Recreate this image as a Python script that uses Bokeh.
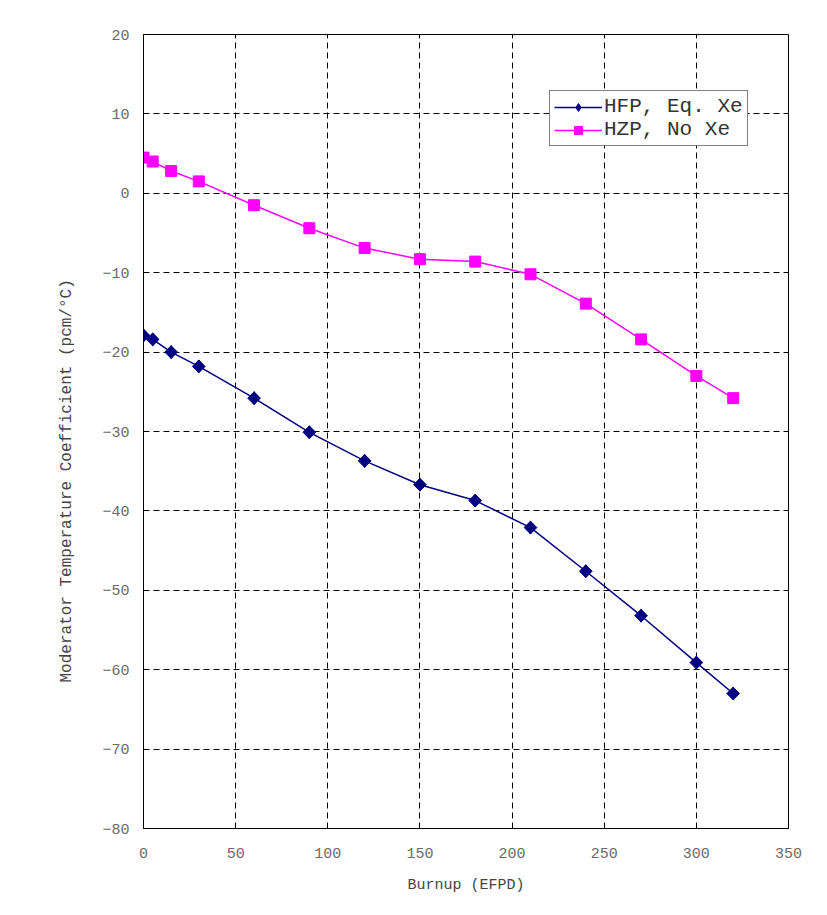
import math
from bokeh.plotting import figure
from bokeh.models import Legend, LegendItem, Range1d, FixedTicker, Title
from bokeh.embed import file_html
from bokeh.resources import INLINE

burnup = [0, 5, 15, 30, 60, 90, 120, 150, 180, 210, 240, 270, 300, 320]
hfp_eq_xe = [-17.9, -18.4, -20.0, -21.8, -25.8, -30.1, -33.7, -36.7, -38.7, -42.1, -47.6, -53.2, -59.1, -63.0]
hzp_no_xe = [4.5, 4.0, 2.8, 1.5, -1.5, -4.4, -6.9, -8.3, -8.6, -10.2, -13.9, -18.4, -23.0, -25.8]
x_ticks = [0, 50, 100, 150, 200, 250, 300, 350]
y_ticks = [20, 10, 0, -10, -20, -30, -40, -50, -60, -70, -80]

FONT = "Liberation Mono"

p = figure(width=827, height=915, output_backend="svg", toolbar_location=None,
           x_range=Range1d(0, 350), y_range=Range1d(-80, 20),
           min_border_left=143, min_border_right=39, min_border_top=34, min_border_bottom=87)

p.outline_line_color = "black"
p.outline_line_width = 1

for ax in (p.xaxis[0], p.yaxis[0]):
    ax.axis_line_color = "black"
    ax.major_tick_in = 5
    ax.major_tick_out = 0
    ax.minor_tick_line_color = None
    ax.major_label_text_font = FONT
    ax.major_label_text_font_size = "15px"
    ax.major_label_text_color = "#6a6a6a"
    ax.axis_label_text_font = FONT
    ax.axis_label_text_font_size = "15px"
    ax.axis_label_text_font_style = "normal"
    ax.axis_label_text_color = "#444444"

p.xaxis.ticker = FixedTicker(ticks=x_ticks)
p.yaxis.ticker = FixedTicker(ticks=y_ticks)
p.xaxis.major_label_standoff = 19
p.yaxis.major_label_standoff = 14
p.xaxis.axis_label = "Burnup (EFPD)"
p.xaxis.axis_label_standoff = 16

# y-axis title, placed as in the reference (slightly below the frame centre)
ytitle = Title(text="Moderator Temperature Coefficient (pcm/°C)", align="left",
               offset=146, standoff=48, text_font=FONT, text_font_size="16px",
               text_font_style="normal", text_color="#444444")
p.add_layout(ytitle, "left")

for g in (p.xgrid[0], p.ygrid[0]):
    g.grid_line_color = "black"
    g.grid_line_dash = "6 4"
    g.grid_line_width = 1

l1 = p.line(burnup, hfp_eq_xe, line_color="#000080", line_width=1.5)
d1 = p.scatter(burnup, hfp_eq_xe, marker="diamond", size=13,
               fill_color="#000080", line_color="#000080")
s1 = p.scatter(burnup, hfp_eq_xe, marker="square", angle=math.pi / 4, size=9,
               fill_color="#000080", line_color="#000080")
l2 = p.line(burnup, hzp_no_xe, line_color="#FF00FF", line_width=1.5)
s2 = p.scatter(burnup, hzp_no_xe, marker="square", size=11, fill_color="#FF00FF", line_color="#FF00FF")

legend = Legend(items=[LegendItem(label="HFP, Eq. Xe", renderers=[l1, d1]),
                       LegendItem(label="HZP, No Xe", renderers=[l2, s2])],
                location=(406, 682))
legend.label_text_font = FONT
legend.label_text_font_size = "21px"
legend.label_text_color = "#333333"
legend.border_line_color = "black"
legend.border_line_width = 1
legend.glyph_width = 48
legend.spacing = 0
legend.padding = 4
legend.margin = 0
legend.label_standoff = 2
legend.background_fill_alpha = 1
p.add_layout(legend)

open("out.html", "w").write(file_html(p, INLINE))
